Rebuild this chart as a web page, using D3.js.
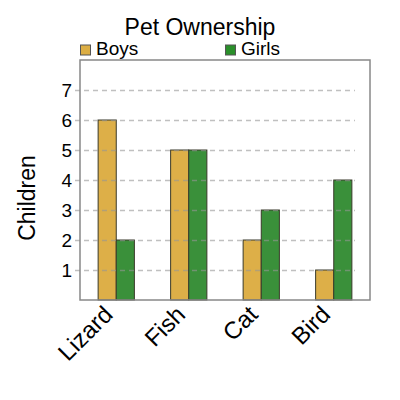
<!DOCTYPE html>
<html>
<head>
<meta charset="utf-8">
<script src="https://cdn.jsdelivr.net/npm/d3@7"></script>
<style>
  body { margin: 0; background: #fff; }
  text { font-family: "Liberation Sans", Arial, sans-serif; fill: #000; }
</style>
</head>
<body>
<svg id="chart"></svg>
<script>
const pets = ['Lizard', 'Fish', 'Cat', 'Bird'];
const seriesNames = ['Boys', 'Girls'];
const boys = [6, 5, 2, 1];
const girls = [2, 5, 3, 4];
const yTicks = [1, 2, 3, 4, 5, 6, 7];

const colors = { Boys: '#ddaf48', Girls: '#3a903a' };
const legendColors = { Boys: '#dcae44', Girls: '#2a8f2a' };

const width = 400;
const height = 400;
const margin = { top: 60, right: 30, bottom: 100, left: 80 };
const innerW = width - margin.left - margin.right;
const innerH = height - margin.top - margin.bottom;

const svg = d3.select('#chart')
  .attr('width', width)
  .attr('height', height);

const g = svg.append('g')
  .attr('transform', `translate(${margin.left},${margin.top})`);

const x = d3.scaleBand()
  .domain(pets)
  .range([0, innerW])
  .paddingInner(0.5)
  .paddingOuter(0.25);

const xSub = d3.scaleBand()
  .domain(seriesNames)
  .range([0, x.bandwidth()]);

const y = d3.scaleLinear()
  .domain([0, 8])
  .range([innerH, 0]);

const rows = pets.map((p, i) => ({ pet: p, Boys: boys[i], Girls: girls[i] }));

// bars
g.selectAll('.group')
  .data(rows)
  .enter()
  .append('g')
  .attr('class', 'group')
  .attr('transform', d => `translate(${x(d.pet)},0)`)
  .selectAll('rect')
  .data(d => seriesNames.map(s => ({ key: s, value: d[s] })))
  .enter()
  .append('rect')
  .attr('x', d => xSub(d.key))
  .attr('y', d => y(d.value))
  .attr('width', xSub.bandwidth())
  .attr('height', d => innerH - y(d.value))
  .attr('fill', d => colors[d.key])
  .attr('stroke', '#3a3a2a')
  .attr('stroke-width', 1);

// y axis with dashed grid lines on top of the bars
const yAxis = d3.axisLeft(y)
  .tickValues(yTicks)
  .tickSize(-(innerW - 10))
  .tickPadding(8)
  .tickFormat(d3.format('d'));

const yg = g.append('g')
  .call(yAxis)
  .attr('transform', 'translate(-5,0)');
yg.select('.domain').remove();
yg.selectAll('.tick line')
  .attr('stroke', 'rgba(150,150,150,0.6)')
  .attr('stroke-width', 1.5)
  .attr('stroke-dasharray', '5,4');
yg.selectAll('.tick text')
  .style('font-size', '19px')
  .attr('x', -3);

// frame
g.append('rect')
  .attr('x', 0)
  .attr('y', 0)
  .attr('width', innerW)
  .attr('height', innerH)
  .attr('fill', 'none')
  .attr('stroke', '#888')
  .attr('stroke-width', 1.5);

// x labels
const xg = g.append('g')
  .attr('transform', `translate(0,${innerH})`)
  .call(d3.axisBottom(x).tickSize(0).tickPadding(0));
xg.select('.domain').remove();
xg.selectAll('.tick text')
  .style('font-size', '24px')
  .attr('text-anchor', 'end')
  .attr('y', 0)
  .attr('dy', '0.35em')
  .attr('transform', 'translate(-8,10) rotate(-45)');

// y title
svg.append('text')
  .attr('transform', `translate(35,${margin.top + innerH / 2 + 18}) rotate(-90)`)
  .attr('text-anchor', 'middle')
  .style('font-size', '23px')
  .text('Children');

// title
svg.append('text')
  .attr('x', 200)
  .attr('y', 35)
  .attr('text-anchor', 'middle')
  .style('font-size', '23px')
  .text('Pet Ownership');

// legend
const legend = svg.append('g')
  .attr('transform', `translate(${margin.left},0)`)
  .selectAll('g')
  .data(seriesNames)
  .enter()
  .append('g')
  .attr('transform', (d, i) => `translate(${i * innerW / 2},0)`);

legend.append('rect')
  .attr('x', 0.5)
  .attr('y', 45)
  .attr('width', 10)
  .attr('height', 10)
  .attr('fill', d => legendColors[d])
  .attr('stroke', '#555')
  .attr('stroke-width', 1);

legend.append('text')
  .attr('x', 16)
  .attr('y', 55)
  .style('font-size', '19px')
  .text(d => d);
</script>
</body>
</html>
